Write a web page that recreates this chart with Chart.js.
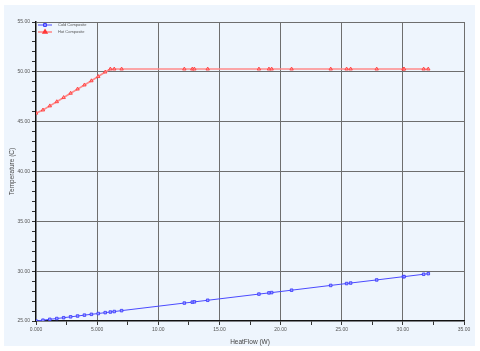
<!DOCTYPE html>
<html>
<head>
<meta charset="utf-8">
<script src="https://cdn.jsdelivr.net/npm/chart.js@4.4.1/dist/chart.umd.min.js"></script>
<style>
  html,body{margin:0;padding:0;background:#fff;}
  #wrap{position:relative;width:480px;height:351px;}
  #panel{position:absolute;left:4px;top:5px;width:471px;height:341px;background:#eef5fd;}
  canvas{position:absolute;left:0;top:0;}
</style>
</head>
<body>
<div id="wrap">
  <div id="panel"></div>
  <canvas id="c" width="480" height="351"></canvas>
</div>
<script>
// Composite curves - heat flow vs temperature

const heatFlow = [0, 0.57, 1.13, 1.70, 2.26, 2.83, 3.40, 3.96, 4.53, 5.09, 5.66, 6.08, 6.40, 7.00,
  12.13, 12.78, 12.95, 14.04, 18.23, 19.05, 19.27, 20.90, 24.10, 25.40, 25.73, 27.86, 30.05, 30.10, 31.70, 32.08];

const coldTemp = [25.00, 25.08, 25.17, 25.25, 25.33, 25.42, 25.50, 25.59, 25.67, 25.75, 25.84, 25.90, 25.95, 26.04,
  26.80, 26.89, 26.92, 27.08, 27.70, 27.82, 27.85, 28.09, 28.57, 28.76, 28.81, 29.12, 29.45, 29.45, 29.69, 29.75];

const hotTemp = [45.85, 46.17, 46.58, 47.00, 47.42, 47.85, 48.27, 48.68, 49.10, 49.53, 49.98, 50.28, 50.28, 50.28,
  50.28, 50.28, 50.28, 50.28, 50.28, 50.28, 50.28, 50.28, 50.28, 50.28, 50.28, 50.28, 50.28, 50.28, 50.28, 50.28];

const seriesNames = ['Cold Composite', 'Hot Composite'];

const FONT = 'Liberation Sans, Arial, sans-serif';

function pts(ys){
  return heatFlow.map((x,i) => ({x: x, y: ys[i]}));
}

function fmtX(v){
  if(v % 5 !== 0) return '';
  return v < 10 ? v.toFixed(3) : v.toFixed(2);
}

// legend drawn inside plot, top-left
const innerLegend = {
  id: 'innerLegend',
  afterDatasetsDraw(chart){
    const ctx = chart.ctx;
    const a = chart.chartArea;
    ctx.save();
    chart.data.datasets.forEach((ds,i) => {
      const y = a.top + 3 + i*7;
      const x0 = a.left + 2;
      ctx.strokeStyle = ds.borderColor;
      ctx.lineWidth = ds.borderWidth;
      ctx.beginPath(); ctx.moveTo(x0, y); ctx.lineTo(x0 + 14, y); ctx.stroke();
      ctx.fillStyle = ds.pointBackgroundColor;
      ctx.strokeStyle = ds.pointBorderColor;
      Chart.helpers.drawPoint(ctx, {pointStyle: ds.pointStyle, radius: 2, rotation: 0, borderWidth: 1}, x0 + 7, y);
      ctx.fillStyle = '#555';
      ctx.font = '4px ' + FONT;
      ctx.textBaseline = 'middle';
      ctx.fillText(ds.label, x0 + 20, y);
    });
    ctx.restore();
  }
};

new Chart(document.getElementById('c'), {
  type: 'scatter',
  data: {
    datasets: [
      { label: seriesNames[0], data: pts(coldTemp), showLine: true,
        borderColor: '#4a4aff', borderWidth: 1,
        pointStyle: 'rect', pointRadius: 1.8,
        pointBackgroundColor: '#9a9aff', pointBorderColor: '#3535ff', pointBorderWidth: 0.8 },
      { label: seriesNames[1], data: pts(hotTemp), showLine: true,
        borderColor: '#ff8a8a', borderWidth: 1.6,
        pointStyle: 'triangle', pointRadius: 2,
        pointBackgroundColor: '#ff9a9a', pointBorderColor: '#ff3535', pointBorderWidth: 0.8 }
    ]
  },
  options: {
    responsive: false,
    animation: false,
    layout: { padding: { left: 0, top: 22, right: 16, bottom: 0 } },
    plugins: { legend: { display: false }, tooltip: { enabled: false } },
    scales: {
      x: {
        type: 'linear', min: 0, max: 35,
        afterFit: s => { s.height = 30; },
        ticks: { stepSize: 2.5, autoSkip: false, maxRotation: 0, padding: 2,
          color: '#555', font: { family: FONT, size: 5 }, callback: fmtX },
        grid: {
          color: c => (c.tick && c.tick.value % 5 === 0 && c.tick.value > 0) ? '#6e6e6e' : 'transparent',
          tickColor: '#333', tickLength: 4, lineWidth: 1
        },
        border: { color: '#111', width: 1.5 },
        title: { display: true, text: 'HeatFlow (W)', color: '#444',
          font: { family: FONT, size: 6.5 }, padding: { top: 0, bottom: 5 } }
      },
      y: {
        type: 'linear', min: 25, max: 55,
        afterFit: s => { s.width = 36; },
        ticks: { stepSize: 1, autoSkip: false, padding: 2,
          color: '#555', font: { family: FONT, size: 5 },
          callback: v => v % 5 === 0 ? v.toFixed(2) : '' },
        grid: {
          color: c => (c.tick && c.tick.value % 5 === 0 && c.tick.value > 25) ? '#6e6e6e' : 'transparent',
          tickColor: '#333', tickLength: 4, lineWidth: 1
        },
        border: { color: '#111', width: 1.5 },
        title: { display: true, text: 'Temperature (C)', color: '#444',
          font: { family: FONT, size: 6.5 }, padding: { top: 8, bottom: 0 } }
      }
    }
  },
  plugins: [innerLegend]
});
</script>
</body>
</html>
